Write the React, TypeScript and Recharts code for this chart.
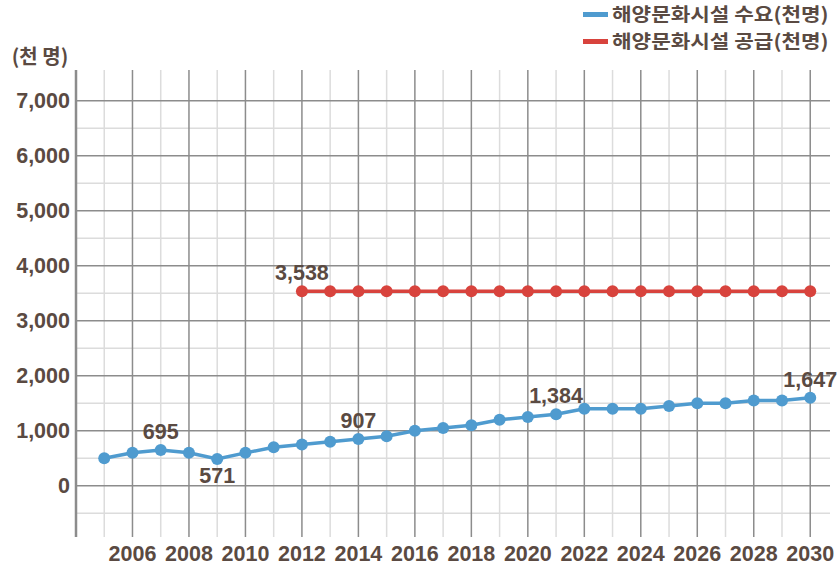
import React from 'react';
import { LineChart, Line, XAxis, YAxis, ReferenceLine, Legend, LabelList } from 'recharts';

const years = [2005, 2006, 2007, 2008, 2009, 2010, 2011, 2012, 2013, 2014, 2015, 2016, 2017, 2018, 2019, 2020, 2021, 2022, 2023, 2024, 2025, 2026, 2027, 2028, 2029, 2030];
const demand = [500, 600, 650, 600, 490, 600, 700, 750, 800, 850, 900, 1000, 1050, 1100, 1200, 1250, 1300, 1400, 1400, 1400, 1450, 1500, 1500, 1550, 1550, 1600];
const supply = [null, null, null, null, null, null, null, 3538, 3538, 3538, 3538, 3538, 3538, 3538, 3538, 3538, 3538, 3538, 3538, 3538, 3538, 3538, 3538, 3538, 3538, 3538];
const demandLabels = ['', '', '695', '', '571', '', '', '', '', '907', '', '', '', '', '', '', '1,384', '', '', '', '', '', '', '', '', '1,647'];
const demandLabelBelow = [false, false, false, false, true, false, false, false, false, false, false, false, false, false, false, false, false, false, false, false, false, false, false, false, false, false];
const supplyLabels = ['', '', '', '', '', '', '', '3,538', '', '', '', '', '', '', '', '', '', '', '', '', '', '', '', '', '', ''];
const xTicks = [2006, 2008, 2010, 2012, 2014, 2016, 2018, 2020, 2022, 2024, 2026, 2028, 2030];
const yTicks = [0, 1000, 2000, 3000, 4000, 5000, 6000, 7000];
const yMinor = [-500, 500, 1500, 2500, 3500, 4500, 5500, 6500];
const seriesNames = ['해양문화시설 수요(천명)', '해양문화시설 공급(천명)'];
const unitLabel = '(천 명)';

const data = years.map((year, i) => ({
  year,
  demand: demand[i],
  supply: supply[i],
  demandLabel: demandLabels[i],
  supplyLabel: supplyLabels[i],
}));

const NUM_FONT = "'Liberation Sans', Arial, sans-serif";
const KR_FONT = "'Noto Sans CJK KR', 'Noto Sans', sans-serif";
const TEXT = '#5a4a42';
const BLUE = '#4f9bcf';
const RED = '#d8433d';
const MAJOR = '#8c8c8c';
const MINOR = '#dcdcdc';

const makeLabel = (belowArr: boolean[] | null) => (props: any) => {
  const { x, y, value, index } = props;
  if (!value) return null;
  const below = belowArr ? belowArr[index] : false;
  return (
    <text
      x={x}
      y={below ? y + 24 : y - 11}
      textAnchor="middle"
      fill={TEXT}
      fontSize={21.5}
      fontWeight={700}
      fontFamily={NUM_FONT}
    >
      {value}
    </text>
  );
};

const LegendContent = (props: any) => {
  const payload = [...(props.payload || [])].sort(
    (a: any, b: any) => seriesNames.indexOf(a.value) - seriesNames.indexOf(b.value)
  );
  return (
    <div style={{ position: 'absolute', left: 583, top: 0, width: 256, fontFamily: KR_FONT }}>
      {payload.map((p: any, i: number) => (
        <div key={i} style={{ position: 'relative', height: 27, whiteSpace: 'nowrap' }}>
          <span
            style={{
              position: 'absolute',
              left: 0,
              top: 12,
              width: 25,
              height: 5,
              background: p.color,
            }}
          />
          <span
            style={{
              position: 'absolute',
              left: 29,
              top: 0,
              fontSize: 18.5,
              fontWeight: 700,
              color: TEXT,
              lineHeight: '27px',
              transform: 'scaleX(1.15)',
              transformOrigin: '0 50%',
            }}
          >
            {p.value}
          </span>
        </div>
      ))}
    </div>
  );
};

export default function App() {
  return (
    <div style={{ position: 'absolute', left: 0, top: 0, width: 839, height: 568, background: '#fff' }}>
      <LineChart width={839} height={568} data={data} margin={{ top: 70, right: 9, bottom: 0, left: 0 }}>
        <XAxis
          dataKey="year"
          type="number"
          domain={[2004, 2030.7]}
          ticks={xTicks}
          interval={0}
          allowDataOverflow
          axisLine={false}
          tickLine={false}
          tickSize={0}
          tickMargin={9}
          height={31}
          tick={{ fill: TEXT, fontSize: 21.5, fontWeight: 700, fontFamily: NUM_FONT }}
        />
        <YAxis
          type="number"
          domain={[-930, 7560]}
          ticks={yTicks}
          interval={0}
          allowDataOverflow
          width={76}
          axisLine={{ stroke: MAJOR, strokeWidth: 2.5 }}
          tickLine={false}
          tickSize={0}
          tickMargin={6}
          tickFormatter={(v: number) => v.toLocaleString('en-US')}
          tick={{ fill: TEXT, fontSize: 21.5, fontWeight: 700, fontFamily: NUM_FONT }}
          label={(p: any) => {
            const vb = p.viewBox || { x: 0, y: 70, width: 76 };
            return (
              <text x={40} y={vb.y - 6} textAnchor="middle" fill={TEXT} fontSize={20} fontWeight={700} fontFamily={KR_FONT}>
                {unitLabel}
              </text>
            );
          }}
        />
        {yMinor.map((v) => (
          <ReferenceLine key={'hm' + v} y={v} stroke={MINOR} strokeWidth={1.5} />
        ))}
        {years.filter((y) => y % 2 === 1).map((v) => (
          <ReferenceLine key={'vm' + v} x={v} stroke={MINOR} strokeWidth={1.5} />
        ))}
        {yTicks.map((v) => (
          <ReferenceLine key={'hM' + v} y={v} stroke={MAJOR} strokeWidth={1.5} />
        ))}
        {years.filter((y) => y % 2 === 0).map((v) => (
          <ReferenceLine key={'vM' + v} x={v} stroke={MAJOR} strokeWidth={1.5} />
        ))}
        <Legend
          content={<LegendContent />}
          wrapperStyle={{ position: 'absolute', left: 0, top: 0, width: 0, height: 0, overflow: 'visible' }}
        />
        <Line
          dataKey="demand"
          name={seriesNames[0]}
          stroke={BLUE}
          strokeWidth={3.5}
          dot={{ r: 6, fill: BLUE, stroke: BLUE, strokeWidth: 0 }}
          activeDot={false}
          isAnimationActive={false}
        >
          <LabelList dataKey="demandLabel" content={makeLabel(demandLabelBelow)} />
        </Line>
        <Line
          dataKey="supply"
          name={seriesNames[1]}
          stroke={RED}
          strokeWidth={3.5}
          dot={{ r: 6, fill: RED, stroke: RED, strokeWidth: 0 }}
          activeDot={false}
          connectNulls={false}
          isAnimationActive={false}
        >
          <LabelList dataKey="supplyLabel" content={makeLabel(null)} />
        </Line>
      </LineChart>
    </div>
  );
}
